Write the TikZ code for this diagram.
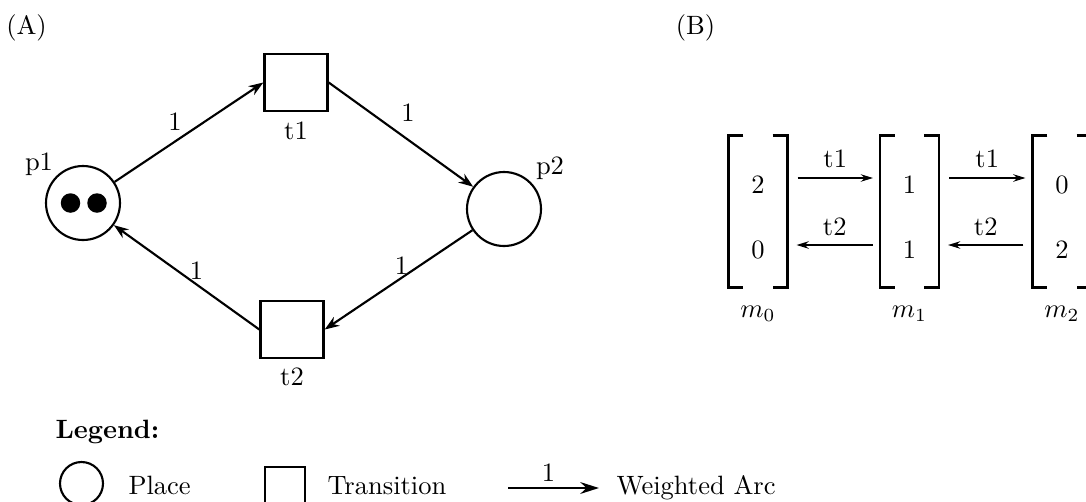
\documentclass[tikz,border=0pt]{standalone}
\usetikzlibrary{arrows.meta}
\newcommand\pxu{0.3774pt}
\begin{document}
\begin{tikzpicture}[x=\pxu, y=-\pxu,
  place/.style={circle, draw, line width=0.8pt, minimum size=74*\pxu, inner sep=0pt},
  trans/.style={rectangle, draw, line width=0.9pt, minimum width=63*\pxu, minimum height=57*\pxu, inner sep=0pt},
  token/.style={circle, fill, inner sep=0pt, minimum size=19.5*\pxu},
  arc/.style={line width=0.8pt, -{Stealth[length=5.5pt,width=4pt]}},
  tarc/.style={line width=0.6pt, -{Stealth[length=4.6pt,width=2.8pt]}},
  legarc/.style={line width=1.1pt, -{Stealth[length=7pt,width=4.4pt]}},
  bracket/.style={line width=0.9pt},
  markbox/.style={minimum width=58*\pxu, minimum height=151*\pxu, inner sep=0pt},
  legtext/.style={anchor=base west, inner sep=0pt},
]
\useasboundingbox (0,0) rectangle (1086,501);
% (A)
\node (lA) at (26.5,27.5) {(A)};
\node (lB) at (695.5,27.5) {(B)};
\node[place] (p1) at (83,203) {};
\node[token] (k1) at (70.5,203) {};
\node[token] (k2) at (97,203) {};
\node (p1l) at (39,164) {p1};
\node[trans] (t1) at (296,82.5) {};
\node (t1l) at (296,131) {t1};
\node[place] (p2) at (504,209) {};
\node (p2l) at (550,168) {p2};
\node[trans] (t2) at (292,329.5) {};
\node (t2l) at (292,377) {t2};
\draw[arc] (p1) -- (t1.west) node[midway, shift={(-14,-10.5)}] {1};
\draw[arc] (t1.east) -- (p2) node[midway, shift={(7,-22)}] {1};
\draw[arc] (p2) -- (t2.east) node[midway, shift={(3,-14.5)}] {1};
\draw[arc] (t2.west) -- (p1) node[midway, shift={(10,-7)}] {1};
% (B)
\node[markbox] (m0) at (758,211.5) {};
\node[markbox] (m1) at (909.5,211.5) {};
\node[markbox] (m2) at (1062,211.5) {};
\foreach \m in {m0,m1,m2}{
  \draw[bracket] ([shift={(15,0)}]\m.north west) -- (\m.north west) -- (\m.south west) -- ([shift={(15,0)}]\m.south west);
  \draw[bracket] ([shift={(-15,0)}]\m.north east) -- (\m.north east) -- (\m.south east) -- ([shift={(-15,0)}]\m.south east);
}
\node (e0a) at (758,185) {2};
\node (e0b) at (758,250) {0};
\node (e1a) at (909.5,185) {1};
\node (e1b) at (909.5,250) {1};
\node (e2a) at (1062,185) {0};
\node (e2b) at (1062,250) {2};
\draw[tarc] ([shift={(10,-33.5)}]m0.east) -- ([shift={(-7,-33.5)}]m1.west) node[midway, shift={(0,-19)}] {t1};
\draw[tarc] ([shift={(-7,33.5)}]m1.west) -- ([shift={(9,33.5)}]m0.east) node[midway, shift={(0,-18)}] {t2};
\draw[tarc] ([shift={(10,-33.5)}]m1.east) -- ([shift={(-7,-33.5)}]m2.west) node[midway, shift={(0,-19)}] {t1};
\draw[tarc] ([shift={(-9,33.5)}]m2.west) -- ([shift={(9,33.5)}]m1.east) node[midway, shift={(0,-18)}] {t2};
\node (m0l) at (758,314) {$m_0$};
\node (m1l) at (909.5,314) {$m_1$};
\node (m2l) at (1062,314) {$m_2$};
% Legend
\node[legtext, font=\bfseries] (leg) at (55,438) {Legend:};
\node[circle, draw, line width=0.8pt, minimum size=43*\pxu, inner sep=0pt] (lp) at (81.5,483.5) {};
\node[legtext] (lpt) at (128,494) {Place};
\node[rectangle, draw, line width=0.9pt, minimum size=40*\pxu, inner sep=0pt] (lt) at (285,487) {};
\node[legtext] (ltt) at (327,494) {Transition};
\coordinate (la1) at (508,488);
\coordinate (la2) at (599,488);
\draw[legarc] (la1) -- (la2) node[midway, shift={(-5,-15)}] {1};
\node[legtext] (lwt) at (616,494) {Weighted Arc};
\end{tikzpicture}
\end{document}
